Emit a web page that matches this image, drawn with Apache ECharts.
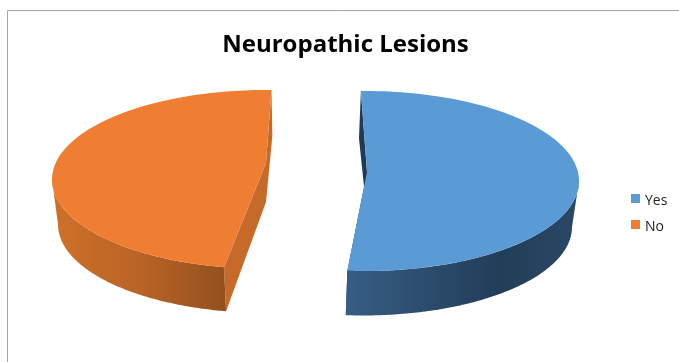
<!DOCTYPE html>
<html>
<head>
<meta charset="utf-8">
<style>html,body{margin:0;padding:0;background:#fff}#chart{width:679px;height:362px}</style>
<script src="https://cdn.jsdelivr.net/npm/echarts@6/dist/echarts.min.js"></script>
</head>
<body>
<div id="chart"></div>
<script>
// Share of patients with and without neuropathic lesions.
const categories = ['Yes', 'No'];
const shares = [52.2, 47.8];
const topColors = ['#5b9bd5', '#ef7e32'];
const rimStops = [
  [[0, '#375d85'], [0.68, '#223d58'], [1, '#294865']],
  [[0, '#cd7029'], [0.5, '#b96326'], [1, '#93501e']]
];
const cutColors = ['#1f3a55', '#c66a2a'];

// Pie pose: where each exploded slice sits and how its disc is foreshortened.
const startAngles = [-1.1, 191.3];
const angularRoom = 356;
const topDiscs = [
  { cx: 365, cy: 181, rx: 214, ry: 90, apexX: 367, apexY: 172 },
  { cx: 266, cy: 179.5, rx: 214, ry: 89.5, apexX: 266, apexY: 163 }
];
const baseDiscs = [
  { cx: 363, cy: 227, rx: 209, ry: 88.5, apexX: 367, apexY: 215 },
  { cx: 267, cy: 224.5, rx: 209, ry: 88.5, apexX: 266, apexY: 202 }
];

const total = shares.reduce((a, b) => a + b, 0);

// Angles run clockwise from twelve o'clock.
function rimPoint(d, deg) {
  const t = deg * Math.PI / 180;
  return [d.cx + d.rx * Math.sin(t), d.cy - d.ry * Math.cos(t)];
}
function arc(d, from, to) {
  const pts = [];
  const n = 120;
  for (let i = 0; i <= n; i++) pts.push(rimPoint(d, from + (to - from) * i / n));
  return pts;
}

function sliceItem(idx) {
  return function (params, api) {
    const sweep = api.value(0) / total * angularRoom;
    const a0 = startAngles[idx], a1 = a0 + sweep;
    const top = topDiscs[idx], base = baseDiscs[idx];
    // Only the front half of the rim faces the viewer.
    const front0 = Math.max(a0, 90), front1 = Math.min(a1, 270);
    const topFront = arc(top, front0, front1);
    const baseFront = arc(base, front0, front1);
    const xs = baseFront.map(p => p[0]);
    const lo = Math.min(...xs), hi = Math.max(...xs);
    const rimFill = {
      type: 'linear', x: lo, y: 0, x2: hi, y2: 0, global: true,
      colorStops: rimStops[idx].map(s => ({ offset: s[0], color: s[1] }))
    };
    const cutFace = (a) => ({
      type: 'polygon',
      shape: { points: [rimPoint(top, a), [top.apexX, top.apexY], [base.apexX, base.apexY], rimPoint(base, a)] },
      style: { fill: cutColors[idx] }
    });
    return {
      type: 'group',
      children: [
        cutFace(a0),
        cutFace(a1),
        { type: 'polygon', shape: { points: topFront.concat(baseFront.slice().reverse()) }, style: { fill: rimFill } },
        {
          type: 'polygon',
          shape: { points: arc(top, a0, a1).concat([[top.apexX, top.apexY]]) },
          style: { fill: topColors[idx] }
        }
      ]
    };
  };
}

const chart = echarts.init(document.getElementById('chart'), null, { renderer: 'canvas' });
chart.setOption({
  animation: false,
  backgroundColor: '#fff',
  title: {
    text: 'Neuropathic Lesions',
    left: 340.5,
    textAlign: 'center',
    top: 28,
    textStyle: { fontFamily: 'Open Sans', fontWeight: 'bold', fontSize: 24, color: '#000' }
  },
  legend: {
    orient: 'vertical',
    left: 626,
    top: 189,
    itemWidth: 9,
    itemHeight: 9,
    itemGap: 12,
    icon: 'rect',
    selectedMode: false,
    data: categories,
    formatter: '{t|{name}}',
    textStyle: {
      rich: { t: { fontFamily: 'Open Sans', fontSize: 14, color: '#222', padding: [5, 0, 0, 0] } }
    }
  },
  graphic: [
    { type: 'polyline', shape: { points: [[7.5, 362], [7.5, 10.5], [679, 10.5]] }, style: { stroke: '#a6a6a6', lineWidth: 1, fill: null }, silent: true }
  ],
  series: categories.map((name, i) => ({
    type: 'custom',
    name,
    coordinateSystem: 'none',
    itemStyle: { color: topColors[i] },
    silent: true,
    data: [[shares[i]]],
    renderItem: sliceItem(i)
  }))
});
</script>
</body>
</html>
